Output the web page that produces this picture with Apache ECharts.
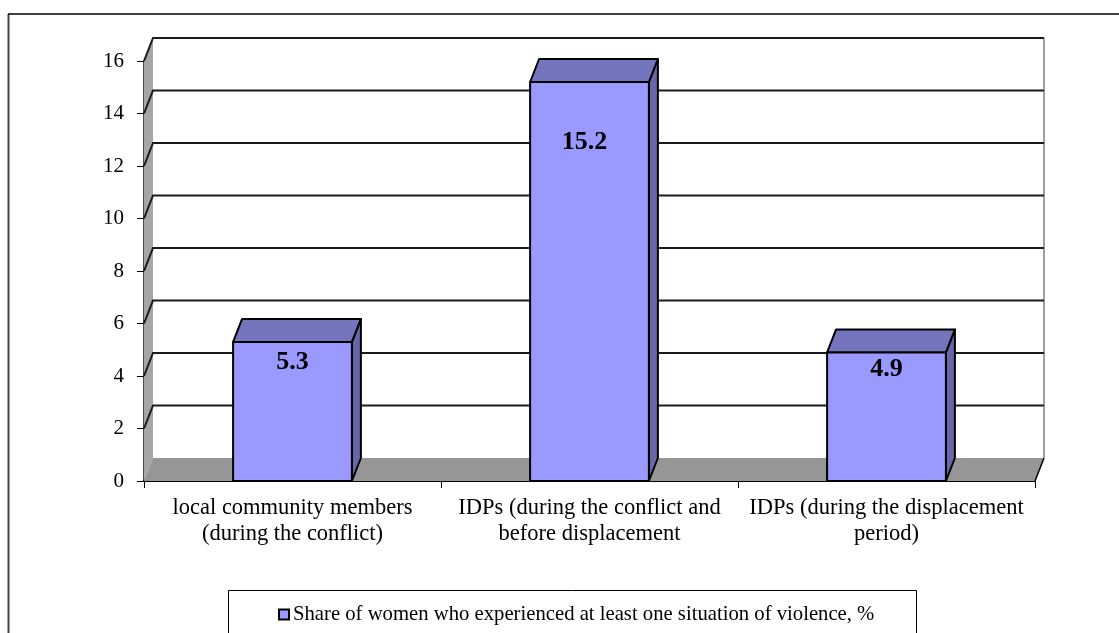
<!DOCTYPE html>
<html><head><meta charset="utf-8">
<style>html,body{margin:0;padding:0;background:#fff}#c{width:1119px;height:633px}</style>
<script src="https://cdn.jsdelivr.net/npm/echarts@6/dist/echarts.min.js"></script>
</head><body><div id="c"></div>
<script>
const categories = ['local community members\n(during the conflict)', 'IDPs (during the conflict and\nbefore displacement', 'IDPs (during the displacement\nperiod)'];
const shareValues = [5.3, 15.2, 4.9];
const seriesName = 'Share of women who experienced at least one situation of violence, %';
const yTicks = [0, 2, 4, 6, 8, 10, 12, 14, 16];
const labelDrop = [20, 60, 17];
const labelShift = [0, -5, 0];
const DX = 9, DY = 23;
const FONT = '"Liberation Serif","Times New Roman",serif';
const chart = echarts.init(document.getElementById('c'), null, {renderer: 'canvas'});
const barLine = {stroke: '#000', lineWidth: 2, lineJoin: 'round'};
chart.setOption({
  animation: false,
  backgroundColor: '#fff',
  textStyle: {fontFamily: FONT},
  grid: {left: 144, right: 84, top: 61, bottom: 152},
  xAxis: {type: 'category', data: categories,
    axisLine: {lineStyle: {color: '#000', width: 2}},
    axisTick: {show: true, alignWithLabel: false, length: 7, lineStyle: {color: '#000', width: 1}},
    axisLabel: {color: '#000', fontFamily: FONT, fontSize: 22.5, lineHeight: 26, margin: 14, interval: 0}},
  yAxis: {type: 'value', min: 0, max: 16, interval: 2,
    axisLine: {show: true, lineStyle: {color: '#111', width: 1.5}},
    axisTick: {show: true, length: 7, lineStyle: {color: '#000', width: 1}},
    axisLabel: {color: '#000', fontFamily: FONT, fontSize: 21, margin: 20},
    splitLine: {show: false}},
  legend: {show: true, data: [seriesName], left: 278, top: 604, itemWidth: 10, itemHeight: 10, itemGap: 0,
    icon: 'rect', padding: 0,
    itemStyle: {color: '#9999ff', borderColor: '#000', borderWidth: 2},
    textStyle: {color: '#000', fontFamily: FONT, fontSize: 20.7, padding: [0, 0, 0, -1]}},
  graphic: [
    {type: 'polyline', silent: true, shape: {points: [[8.5, 633], [8.5, 14]]}, style: {stroke: '#444', lineWidth: 2, fill: null}},
    {type: 'line', silent: true, shape: {x1: 8, y1: 14, x2: 1119, y2: 14}, style: {stroke: '#000', lineWidth: 1.5}},
    {type: 'rect', silent: true, shape: {x: 228.5, y: 590.5, width: 688, height: 60}, style: {stroke: '#000', lineWidth: 1, fill: null}}
  ],
  series: [
    {type: 'custom', name: 'backdrop', silent: true, z: 1, data: yTicks.map(t => [0, t]), encode: {x: 0, y: 1},
     renderItem(params, api) {
       const g = params.coordSys, y = api.coord([0, api.value(1)])[1];
       const x0 = g.x, x1 = g.x + g.width, yb = g.y + g.height, yt = g.y;
       const kids = [];
       if (params.dataIndex === 0) {
         kids.push({type: 'polygon', shape: {points: [[x0, yb], [x0 + DX, yb - DY], [x0 + DX, yt - DY], [x0, yt]]}, style: {fill: '#a6a6a6', stroke: null}});
         kids.push({type: 'polygon', shape: {points: [[x0, yb], [x0 + DX, yb - DY], [x1 + DX, yb - DY], [x1, yb]]}, style: {fill: '#969696', stroke: null}});
         kids.push({type: 'line', shape: {x1: x1, y1: yb, x2: x1 + DX, y2: yb - DY}, style: {stroke: '#000', lineWidth: 1.5}});
         kids.push({type: 'line', shape: {x1: x1 + DX, y1: yb - DY, x2: x1 + DX, y2: yt - DY}, style: {stroke: '#a0a0a0', lineWidth: 2}});
       } else {
         kids.push({type: 'polyline', shape: {points: [[x0, y], [x0 + DX, y - DY], [x1 + DX, y - DY]]}, style: {stroke: '#1a1a1a', lineWidth: 2, fill: null}});
       }
       return {type: 'group', children: kids};
     }},
    {type: 'custom', name: seriesName, z: 3, itemStyle: {color: '#9999ff', borderColor: '#000', borderWidth: 2},
     data: shareValues.map((v, i) => [i, v]), encode: {x: 0, y: 1},
     renderItem(params, api) {
       const i = api.value(0), v = api.value(1);
       const top = api.coord([i, v]), bot = api.coord([i, 0]);
       const w = api.size([1, 0])[0] / 2.5, l = top[0] - w / 2, r = top[0] + w / 2;
       return {type: 'group', children: [
         {type: 'polygon', shape: {points: [[r, bot[1]], [r + DX, bot[1] - DY], [r + DX, top[1] - DY], [r, top[1]]]}, style: Object.assign({fill: '#6666a8'}, barLine)},
         {type: 'polygon', shape: {points: [[l, top[1]], [l + DX, top[1] - DY], [r + DX, top[1] - DY], [r, top[1]]]}, style: Object.assign({fill: '#7575bd'}, barLine)},
         {type: 'rect', shape: {x: l, y: top[1], width: w, height: bot[1] - top[1]}, style: Object.assign({fill: '#9999ff'}, barLine)},
         {type: 'text', style: {text: String(v), x: top[0] + labelShift[params.dataIndex], y: top[1] + labelDrop[params.dataIndex], align: 'center', verticalAlign: 'middle', fill: '#000', font: 'bold 26px ' + FONT}}
       ]};
     }}
  ]
});
</script></body></html>
